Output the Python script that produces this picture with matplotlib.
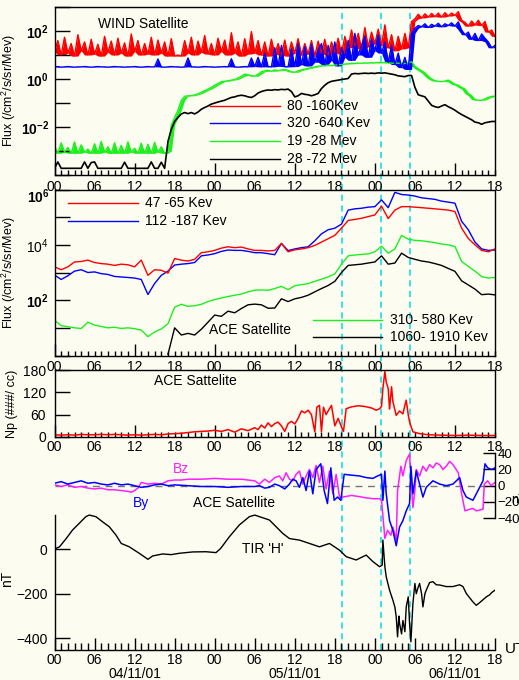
import numpy as np
import matplotlib
matplotlib.use("Agg")
import matplotlib.pyplot as plt
from matplotlib.ticker import FixedLocator, FuncFormatter, NullLocator

plt.rcParams['font.family'] = ['Liberation Sans', 'DejaVu Sans']
plt.rcParams['mathtext.fontset'] = 'custom'
plt.rcParams['mathtext.rm'] = 'Liberation Sans'
plt.rcParams['mathtext.it'] = 'Liberation Sans:italic'
plt.rcParams['mathtext.bf'] = 'Liberation Sans:bold'
plt.rcParams['axes.linewidth'] = 1.0

# ---------------- data (hours from 04/11/01 00 UT) ----------------
event_hours = [43.1, 48.9, 53.3]

t_half = np.arange(0, 66.5, 0.5)          # WIND samples, every 30 min
t_hour = np.arange(0, 67, 1)              # ACE flux samples, hourly
t_hour_black = np.arange(17, 67, 1)

wind_red = [14, 40, 10, 55, 12, 30, 9, 70, 15, 35,
            10, 45, 11, 28, 9, 60, 13, 38, 10, 50,
            12, 32, 9, 75, 14, 40, 10, 30, 11, 55,
            10, 42, 12, 35, 9, 48, 9, 10, 9, 40,
            12, 55, 10, 38, 13, 65, 11, 30, 10, 50,
            14, 42, 10, 85, 12, 35, 9, 48, 11, 95,
            12, 40, 10, 35, 9, 45, 11, 30, 10, 42,
            9, 35, 12, 48, 10, 30, 11, 40, 9, 38,
            12, 45, 10, 35, 13, 50, 11, 60, 20, 110,
            25, 80, 18, 140, 22, 90, 30, 120, 25, 180,
            20, 70, 15, 60, 18, 80, 20, 250, 320, 500,
            350, 520, 380, 540, 400, 560, 380, 580, 420, 560,
            450, 640, 280, 230, 160, 260, 180, 280, 170, 250,
            90, 110, 60]
wind_blue = [3.2, 3.3, 3.1, 3.2, 3.3, 3.2, 3.1, 3.2, 3.2, 3.3,
             3.2, 3.1, 3.2, 3.3, 3.2, 3.2, 3.1, 3.2, 3.3, 3.2,
             3.2, 3.1, 3.2, 3.2, 3.3, 3.2, 3.1, 3.2, 3.3, 3.2,
             3.2, 6.8, 3.2, 3.1, 3.2, 3.3, 3.2, 3.2, 3.1, 3.2,
             7.5, 3.2, 3.2, 3.1, 3.2, 3.3, 3.2, 3.2, 3.1, 3.2,
             3.2, 3.3, 3.2, 7.0, 3.2, 3.1, 3.2, 3.3, 3.2, 7.5,
             3.3, 8.0, 3.2, 12, 3.3, 3.2, 20, 3.4, 25, 3.3,
             3.2, 18, 3.3, 30, 4.0, 22, 3.5, 28, 5.0, 16,
             30, 4.0, 25, 6.0, 35, 3.5, 20, 8.0, 40, 6.0,
             80, 10, 25, 60, 8.0, 45, 15, 70, 12, 35,
             5.0, 25, 4.0, 12, 3.0, 8.0, 2.5, 80, 130, 170,
             150, 200, 140, 190, 160, 210, 150, 200, 170, 220,
             160, 240, 110, 70, 90, 45, 80, 40, 75, 50,
             35, 20, 25]
wind_green = [1.6e-3, 8e-4, 2.2e-3, 9e-4, 1.4e-3, 8e-4, 2.4e-3, 8e-4, 1.8e-3, 9e-4,
              1.2e-3, 8e-4, 2.0e-3, 8e-4, 2.5e-3, 9e-4, 1.5e-3, 8e-4, 2.2e-3, 8e-4,
              1.7e-3, 8e-4, 2.4e-3, 9e-4, 1.3e-3, 8e-4, 2.1e-3, 8e-4, 1.9e-3, 8e-4,
              2.3e-3, 9e-4, 1.5e-3, 8e-4, 1.0e-3, 0.012, 0.025, 0.05, 0.13, 0.19,
              0.2, 0.2, 0.22, 0.24, 0.28, 0.33, 0.38, 0.45, 0.55, 0.65,
              0.78, 0.8, 0.85, 0.9, 0.95, 1.1, 1.3, 1.6, 1.5, 1.4,
              1.3, 1.6, 2.0, 2.2, 2.3, 2.1, 2.4, 2.2, 2.4, 2.5,
              2.3, 2.0, 1.9, 2.2, 2.4, 2.6, 2.8, 3.0, 3.2, 3.4,
              3.5, 3.6, 3.8, 3.6, 3.8, 3.9, 4.0, 4.2, 4.3, 4.5,
              4.4, 4.6, 4.5, 4.7, 4.6, 4.8, 4.7, 4.9, 4.8, 4.9,
              4.7, 4.6, 4.5, 4.6, 4.5, 4.4, 4.8, 5.2, 3.4, 2.7,
              2.2, 1.8, 1.3, 1.0, 0.85, 0.8, 0.78, 0.82, 0.9, 0.75,
              0.6, 0.55, 0.45, 0.38, 0.25, 0.2, 0.14, 0.13, 0.13, 0.15,
              0.17, 0.19, 0.19]
wind_black = [1.9e-4, 3.5e-4, 1.9e-4, 1.9e-4, 1.9e-4, 1.9e-4, 1.9e-4, 1.9e-4, 1.9e-4, 3.5e-4,
              1.9e-4, 3.3e-4, 3.5e-4, 1.9e-4, 1.9e-4, 1.9e-4, 1.9e-4, 1.9e-4, 1.9e-4, 1.9e-4,
              1.9e-4, 3.4e-4, 1.9e-4, 1.9e-4, 1.9e-4, 1.9e-4, 1.9e-4, 1.9e-4, 1.9e-4, 3.5e-4,
              1.9e-4, 1.9e-4, 3.4e-4, 1.9e-4, 2.5e-3, 8e-3, 0.017, 0.025, 0.035, 0.04,
              0.036, 0.04, 0.035, 0.042, 0.055, 0.065, 0.075, 0.09, 0.1, 0.11,
              0.12, 0.13, 0.15, 0.17, 0.18, 0.2, 0.21, 0.2, 0.18, 0.17,
              0.2, 0.26, 0.3, 0.33, 0.35, 0.34, 0.36, 0.35, 0.37, 0.36,
              0.38, 0.3, 0.18, 0.2, 0.25, 0.23, 0.22, 0.2, 0.22, 0.25,
              0.4, 0.55, 0.7, 0.8, 0.85, 0.9, 0.95, 1.0, 1.05, 1.6,
              1.7, 1.65, 1.7, 1.75, 1.7, 1.75, 1.7, 1.8, 1.75, 1.8,
              1.7, 1.6, 1.5, 1.35, 1.3, 1.25, 1.4, 1.4, 0.45, 0.22,
              0.2, 0.18, 0.12, 0.08, 0.07, 0.065, 0.075, 0.085, 0.07, 0.06,
              0.05, 0.04, 0.033, 0.028, 0.024, 0.02, 0.016, 0.015, 0.013, 0.015,
              0.016, 0.017, 0.017]

ace_red = [1.6e3, 1.26e3, 1.6e3, 2.4e3, 2.5e3, 2.8e3, 2.3e3, 2.1e3, 2.0e3, 1.8e3,
           2.0e3, 1.9e3, 1.6e3, 2.8e3, 7.9e2, 1.26e3, 1.2e3, 9.5e2, 3.2e3, 2.8e3,
           2.6e3, 3.0e3, 5.2e3, 5.6e3, 6.3e3, 7.6e3, 8.5e3, 7.9e3, 8.3e3, 7.1e3,
           6.3e3, 6.3e3, 6.0e3, 6.3e3, 1.12e4, 5.6e3, 6.6e3, 7.1e3, 7.9e3, 9.5e3,
           1.26e4, 1.66e4, 2.2e4, 4.0e4, 7.6e4, 8.3e4, 9.1e4, 1.05e5, 1.2e5, 2.5e5,
           8.9e4, 1.8e5, 2.4e5, 2.4e5, 2.3e5, 2.2e5, 2.1e5, 2.0e5, 1.9e5, 1.8e5,
           1.6e5, 4.0e4, 1.7e4, 1.0e4, 6.3e3, 5.6e3, 7.1e3]
ace_blue = [8.1e2, 5.6e2, 7.6e2, 1.12e3, 1.26e3, 1.0e3, 1.05e3, 9.1e2, 8.5e2, 7.2e2,
            6.9e2, 6.6e2, 6.3e2, 5.6e2, 1.6e2, 4.0e2, 7.9e2, 1.12e3, 1.86e3, 2.0e3,
            2.1e3, 2.3e3, 4.0e3, 4.3e3, 4.8e3, 5.8e3, 6.5e3, 6.3e3, 6.3e3, 5.8e3,
            5.2e3, 5.2e3, 4.8e3, 4.4e3, 1.12e4, 6.2e3, 7.1e3, 7.9e3, 8.5e3, 1.4e4,
            2.5e4, 3.5e4, 4.0e4, 5.6e4, 1.8e5, 2.0e5, 2.1e5, 2.3e5, 2.4e5, 4.2e5,
            2.2e5, 7.9e5, 6.6e5, 6.3e5, 5.8e5, 5.0e5, 4.7e5, 4.4e5, 3.8e5, 3.5e5,
            3.2e5, 7.1e4, 3.5e4, 1.26e4, 7.1e3, 6.3e3, 6.5e3]
ace_green = [19, 12, 11, 10, 9.5, 16, 12.6, 11.2, 10, 10.5,
             9.5, 10, 9.3, 8.3, 4.8, 7.1, 9.1, 14, 56, 71,
             60, 63, 71, 89, 105, 120, 135, 151, 166, 200,
             229, 234, 229, 263, 316, 240, 331, 363, 398, 479,
             575, 692, 891, 2.0e3, 4.0e3, 4.3e3, 4.5e3, 4.7e3, 5.6e3, 8.9e3,
             5.0e3, 7.1e3, 2.2e4, 1.6e4, 1.45e4, 1.4e4, 1.3e4, 1.2e4, 1.07e4, 1.0e4,
             8.7e3, 2.5e3, 1.66e3, 1.12e3, 710, 630, 660]
ace_black = [1.1, 10, 5.5, 6.3, 5.5, 8.9, 16, 29, 26, 40,
             35, 50, 68, 72, 68, 51, 52, 112, 89, 112,
             126, 151, 200, 263, 339, 479, 1.0e3, 1.8e3, 1.9e3, 2.0e3,
             2.2e3, 2.4e3, 4.0e3, 2.0e3, 2.2e3, 5.0e3, 3.5e3, 3.0e3, 2.6e3, 2.4e3,
             2.1e3, 1.8e3, 1.4e3, 1.1e3, 500, 355, 251, 158, 166, 155]

np_t = [0, 1, 2, 3, 4, 5, 6, 7, 8, 9,
        10, 11, 12, 13, 14, 15, 16, 17, 18, 19,
        20, 21, 22, 23, 24, 25, 26, 27, 28, 29,
        30, 30.5, 31, 31.5, 32, 32.5, 33, 33.5, 34, 34.5,
        35, 35.5, 36, 36.5, 37, 37.5, 38, 38.5, 39, 39.3,
        39.7, 40, 40.3, 40.7, 41, 41.5, 42, 42.5, 43, 43.3,
        43.7, 44.5, 45.5, 46.5, 47.5, 48.2, 48.7, 49.0, 49.2, 49.5,
        49.7, 50.0, 50.2, 50.5, 50.7, 51.2, 51.7, 52.2, 52.5, 52.7,
        53.0, 53.2, 53.7, 54.7, 56, 58, 60, 62, 64, 66]
np_v = [6, 5, 6, 5, 7, 6, 6, 7, 6, 7,
        6, 5, 6, 5, 6, 7, 6, 8, 9, 10,
        12, 14, 15, 16, 18, 15, 20, 13, 22, 17,
        25, 20, 32, 24, 38, 28, 36, 40, 30, 15,
        36, 42, 35, 50, 70, 65, 72, 60, 14, 80,
        85, 14, 80, 60, 70, 85, 30, 50, 27, 15,
        76, 81, 84, 82, 78, 72, 76, 82, 130, 176,
        148, 130, 75, 135, 95, 58, 70, 62, 85, 99,
        60, 40, 14, 9, 6, 5, 4, 5, 4, 4]

bz_t = [0, 1, 2, 3, 4, 5, 6, 7, 8, 9,
        10, 11, 11.5, 12, 12.5, 13, 14, 15, 16, 17,
        18, 19, 20, 22, 24, 26, 28, 30, 30.7, 31.5,
        32.2, 33, 33.7, 34.2, 34.7, 35.2, 35.7, 36.2, 36.7, 37.2,
        37.7, 38.2, 38.7, 39.2, 39.7, 40.2, 40.7, 41.2, 41.7, 42.2,
        42.7, 43.2, 44.5, 45.7, 46.7, 47.7, 48.7, 49.0, 49.5, 49.9,
        50.4, 50.7, 51.2, 51.4, 51.9, 52.2, 52.7, 53.2, 53.7, 54.0,
        54.2, 54.7, 55.2, 55.7, 56.2, 56.7, 57.2, 57.7, 58.2, 58.7,
        59.2, 59.7, 60.5, 61.0, 61.5, 62.2, 62.7, 63.2, 63.7, 64.2,
        64.4, 64.9, 65.4, 66]
bz_v = [1, -1, 1, -2, -1, -3, -4, -3, -5, -5,
        -6, -7, -8, -6, -3, 4, 2, 3, 2, 6,
        7, 7, 8, 8, 9, 8, 8, 6, 2, 8,
        4, 10, 12, 6, 16, 8, 6, 14, 18, 2,
        12, 20, 10, 25, 4, 24, -4, 18, -10, 14,
        -14, -14, -12, -13.5, -15, -16, -16, -18, -65, -55,
        -61, -51, -67, -6, 24, 12, 31, 39, -27, -6,
        20, 12, 24, 18, 26, 22, 28, 26, 20, 24,
        30, 26, 16, -10, -31, -29, -28, -31, -30, -29,
        2, 6, 0, 4]
by_t = [0, 1, 2, 3, 4, 5, 6, 7, 8, 9,
        10, 11, 12, 13, 14, 15, 16, 17, 18, 20,
        22, 24, 26, 28, 30, 30.7, 31.5, 32.2, 33, 33.7,
        34.5, 35.2, 35.7, 36.2, 36.7, 37.2, 37.7, 38.2, 38.7, 39.2,
        39.9, 40.4, 40.9, 41.4, 41.9, 42.4, 42.9, 43.4, 44.5, 45.7,
        46.7, 47.7, 48.4, 49.0, 49.2, 49.5, 49.7, 50.2, 50.7, 51.2,
        51.7, 52.2, 52.7, 53.2, 53.4, 53.7, 54.2, 54.7, 55.2, 55.7,
        56.7, 57.7, 58.7, 59.7, 60.7, 61.2, 61.7, 62.7, 63.2, 63.7,
        64.2, 64.5, 64.9, 65.5, 66]
by_v = [3, 5, 2, 4, 6, 3, 4, 2, 1, 3,
        1, 2, 0, -2, -1, 1, 2, 0, 1, 0,
        -1, -1, -2, -1, -1, 0, -3, -2, 2, 0,
        -4, 2, 8, 6, -2, 10, -6, 18, -10, 20,
        27, -6, -22, 22, -18, -14, -18, 14, 13, 12,
        10, 9, 12, 14, -18, 18, -10, -43, -55, -74,
        -51, -43, -31, -22, 24, -10, 18, 2, -14, -2,
        6, 2, 0, 2, 10, -6, -14, -18, -10, -2,
        6, 27, 22, 20, 22]

h_t = [0, 0.75, 1.75, 2.7, 3.7, 4.7, 5.2, 6.2, 7.2, 8.2,
       9.2, 10, 11.2, 12.7, 14, 14.7, 16.2, 17.5, 18.7, 20.7,
       22.7, 24.2, 24.9, 26.2, 27.7, 29.2, 30, 30.7, 32.2, 33.2,
       34.2, 35.2, 36.7, 38.2, 39.7, 41.2, 42.7, 43.7, 45.2, 46.7,
       47.7, 48.7, 49.1, 49.2, 49.5, 49.7, 50.2, 50.7, 51.0, 51.2,
       51.4, 51.6, 51.7, 52.0, 52.2, 52.5, 52.7, 53.0, 53.2, 53.4,
       53.6, 53.7, 54.0, 54.2, 54.5, 54.7, 55.0, 55.2, 55.5, 55.7,
       56.2, 56.7, 57.2, 57.7, 58.7, 59.7, 60.7, 61.2, 61.7, 62.7,
       63.2, 63.7, 64.7, 65.2, 65.5, 66]
h_v = [0, 10, 47, 85, 115, 145, 152, 145, 122, 100,
       63, 25, 10, -19, -46, -31, -22, -25, -19, -13,
       -12, -16, 3, 55, 108, 145, 152, 145, 130, 100,
       70, 47, 40, 25, 10, 25, -5, -34, -49, -27,
       -56, -79, -72, 40, -79, -124, -184, -229, -260, -303,
       -393, -300, -333, -380, -320, -370, -259, -214, -333, -415,
       -300, -244, -154, -200, -170, -154, -200, -259, -200, -184,
       -150, -146, -160, -161, -168, -168, -160, -168, -199, -237,
       -252, -240, -214, -205, -195, -184]

wind_labels = ['80 -160Kev', '320 -640 Kev', '19 -28 Mev', '28 -72 Mev']
ace_labels_top = ['47 -65 Kev', '112 -187 Kev']
ace_labels_bot = ['310- 580 Kev', '1060- 1910 Kev']
date_labels = ['04/11/01', '05/11/01', '06/11/01']
date_hours = [12, 36, 60]

# ---------------- layout helpers ----------------
W, H = 519, 680
fig = plt.figure(figsize=(W / 100, H / 100), dpi=100)
fig.patch.set_facecolor('#fdfcf1')

L, R = 54.5, 495.0


def rect(top, bottom):
    return [L / W, 1 - bottom / H, (R - L) / W, (bottom - top) / H]


def fx(x):
    return x / W


def fy(y):
    return 1 - y / H


def band_floor(v):
    """running minimum over neighbouring samples: the floor of a noisy band"""
    a = np.asarray(v, dtype=float)
    return np.minimum(np.minimum(a, np.r_[a[:1], a[:-1]]), np.r_[a[1:], a[-1:]])


RED, BLUE, GREEN, MAG, CYAN = '#ff0000', '#0000ff', '#1cf01c', '#ff1eff', '#00dbe6'
FS = 10


def hour_fmt(v, pos):
    h = int(round(v))
    return f"{h % 24:02d}" if h % 6 == 0 else ""


def setup_x(ax, tall_step=12, tall_len=9.0, short_len=3.5, pad=3.5):
    ax.set_xlim(0, 66)
    major = list(range(0, 67, tall_step))
    ax.xaxis.set_major_locator(FixedLocator(major))
    ax.xaxis.set_minor_locator(FixedLocator([h for h in range(0, 67) if h not in major]))
    ax.xaxis.set_major_formatter(FuncFormatter(hour_fmt))
    ax.xaxis.set_minor_formatter(FuncFormatter(hour_fmt))
    ax.tick_params(axis='x', which='major', direction='in', length=tall_len, width=1,
                   labelsize=FS, pad=pad)
    ax.tick_params(axis='x', which='minor', direction='in', length=short_len, width=1,
                   labelsize=FS, pad=pad)


def setup_logy(ax, lo, hi, labels):
    ax.set_yscale('log')
    ax.set_ylim(10.0 ** lo, 10.0 ** hi)
    ax.yaxis.set_major_locator(FixedLocator([10.0 ** k for k in range(lo, hi + 1)]))
    ax.yaxis.set_minor_locator(NullLocator())
    ax.yaxis.set_major_formatter(
        FuncFormatter(lambda v, p: labels.get(int(round(np.log10(v))), '')))
    ax.tick_params(axis='y', direction='in', length=11, width=1, labelsize=FS, pad=4)


# overlay with event lines (behind all panels)
ax_ov = fig.add_axes(rect(7, 650))
ax_ov.set_xlim(0, 66)
ax_ov.set_ylim(0, 1)
ax_ov.axis('off')
for e in event_hours:
    ax_ov.axvline(e, color=CYAN, lw=1.1, ls=(0, (4, 3)))

# ---------------- panel 1 : WIND ----------------
ax1 = fig.add_axes(rect(7, 175))
ax1.set_facecolor('none')
ax1.fill_between(t_half, band_floor(wind_green), wind_green, color=GREEN, lw=0)
ax1.plot(t_half, wind_green, color=GREEN, lw=1.0)
ax1.plot(t_half, wind_black, color='black', lw=1.2)
ax1.fill_between(t_half, band_floor(wind_red), wind_red, color=RED, lw=0)
ax1.plot(t_half, wind_red, color=RED, lw=1.0)
ax1.fill_between(t_half, band_floor(wind_blue), wind_blue, color=BLUE, lw=0)
ax1.plot(t_half, wind_blue, color=BLUE, lw=1.0)
setup_logy(ax1, -4, 3, {2: r'$\mathbf{10^{2}}$', 0: r'$\mathbf{10^{0}}$',
                        -2: r'$\mathbf{10^{-2}}$'})
setup_x(ax1)
ax1.set_ylabel(r'Flux (/cm$^{2}$/s/sr/Mev)', fontsize=9)
ax1.yaxis.set_label_coords(-0.083, 0.5)
ax1.text(0.098, 0.9, 'WIND Satellite', transform=ax1.transAxes, fontsize=FS, va='center')
for (c, lab, yy) in zip([RED, BLUE, GREEN, 'black'], wind_labels, [0.411, 0.310, 0.202, 0.095]):
    ax1.plot([0.352, 0.511], [yy, yy], color=c, lw=1.0, transform=ax1.transAxes)
    ax1.text(0.527, yy, lab, transform=ax1.transAxes, fontsize=FS, va='center')

# ---------------- panel 2 : ACE energetic particles ----------------
ax2 = fig.add_axes(rect(189.5, 355.5))
ax2.set_facecolor('none')
ax2.plot(t_hour, ace_green, color=GREEN, lw=1.0)
ax2.plot(t_hour_black, ace_black, color='black', lw=1.0)
ax2.plot(t_hour, ace_blue, color=BLUE, lw=1.0)
ax2.plot(t_hour, ace_red, color=RED, lw=1.0)
setup_logy(ax2, 0, 6, {4: r'$10^{4}$', 2: r'$\mathbf{10^{2}}$'})
ax2.text(-0.012, 0.955, r'$\mathbf{10^{6}}$', transform=ax2.transAxes, ha='right',
         va='center', fontsize=FS)
setup_x(ax2)
ax2.set_ylabel(r'Flux (/cm$^{2}$/s/sr/Mev)', fontsize=9)
ax2.yaxis.set_label_coords(-0.083, 0.5)
for (c, lab, yy) in zip([RED, BLUE], ace_labels_top, [0.919, 0.81]):
    ax2.plot([0.030, 0.189], [yy, yy], color=c, lw=1.0, transform=ax2.transAxes)
    ax2.text(0.205, yy, lab, transform=ax2.transAxes, fontsize=FS, va='center')
for (c, lab, yy) in zip([GREEN, 'black'], ace_labels_bot, [0.214, 0.111]):
    ax2.plot([0.586, 0.743], [yy, yy], color=c, lw=1.0, transform=ax2.transAxes)
    ax2.text(0.761, yy, lab, transform=ax2.transAxes, fontsize=FS, va='center')
ax2.text(0.351, 0.154, 'ACE Satellite', transform=ax2.transAxes, fontsize=FS, va='center')

# ---------------- panel 3 : proton density ----------------
ax3 = fig.add_axes(rect(370, 437))
ax3.set_facecolor('none')
ax3.plot(np_t, np_v, color=RED, lw=1.1)
ax3.set_ylim(0, 180)
ax3.set_yticks([0, 60, 120, 180])
ax3.tick_params(axis='y', direction='in', length=11, width=1, labelsize=FS, pad=6)
setup_x(ax3, pad=2.5)
ax3.set_ylabel('Np (###/ cc)', fontsize=9)
ax3.yaxis.set_label_coords(-0.083, 0.5)
ax3.text(0.227, 0.836, 'ACE Sattelite', transform=ax3.transAxes, fontsize=FS, va='center')

# ---------------- panel 4/5 : IMF + ground H ----------------
ax5 = fig.add_axes(rect(453, 650))
ax5.set_facecolor('none')
ax5.plot(h_t, h_v, color='black', lw=1.0)
ax5.set_ylim(-452, 430)
ax5.set_yticks([0, -200, -400])
ax5.spines['top'].set_visible(False)
ax5.spines['right'].set_visible(False)
ax5.spines['left'].set_bounds(-452, 152)
ax5.tick_params(axis='y', direction='in', length=11, width=1, labelsize=FS, pad=5)
setup_x(ax5, tall_step=6, tall_len=8.5, short_len=5, pad=2.5)
ax5.set_ylabel('nT', fontsize=FS)
ax5.yaxis.set_label_coords(-0.092, 0.36)

axb = ax5.twinx()
axb.set_facecolor('none')
axb.axhline(0, color='#777777', lw=1.0, ls=(0, (5, 4)), zorder=1)
axb.plot(bz_t, bz_v, color=MAG, lw=1.1, zorder=2)
axb.plot(by_t, by_v, color=BLUE, lw=1.1, zorder=3)
axb.set_ylim(-202.5, 40.3)
axb.set_yticks([40, 20, 0, -20, -40])
for s in ['top', 'bottom', 'left']:
    axb.spines[s].set_visible(False)
axb.spines['right'].set_bounds(-40, 40)
axb.tick_params(axis='y', direction='in', length=9, width=1, labelsize=9.5, pad=2)

fig.text(fx(173), fy(469), 'Bz', color=MAG, fontsize=FS, va='center')
fig.text(fx(133), fy(503), 'By', color=BLUE, fontsize=FS, va='center')
fig.text(fx(193), fy(503), 'ACE Satellite', color='black', fontsize=FS, va='center')
fig.text(fx(242), fy(549), "TIR 'H'", color='black', fontsize=FS, va='center')
fig.text(fx(511), fy(494), 'nT', fontsize=9, va='top')
fig.text(fx(505), fy(649), 'UT', fontsize=11, va='center')
for lab, hh in zip(date_labels, date_hours):
    fig.text(fx(L + (R - L) * hh / 66.0), fy(674), lab, fontsize=FS, ha='center',
             va='center')

fig.savefig('out.png', dpi=100, facecolor=fig.get_facecolor())
